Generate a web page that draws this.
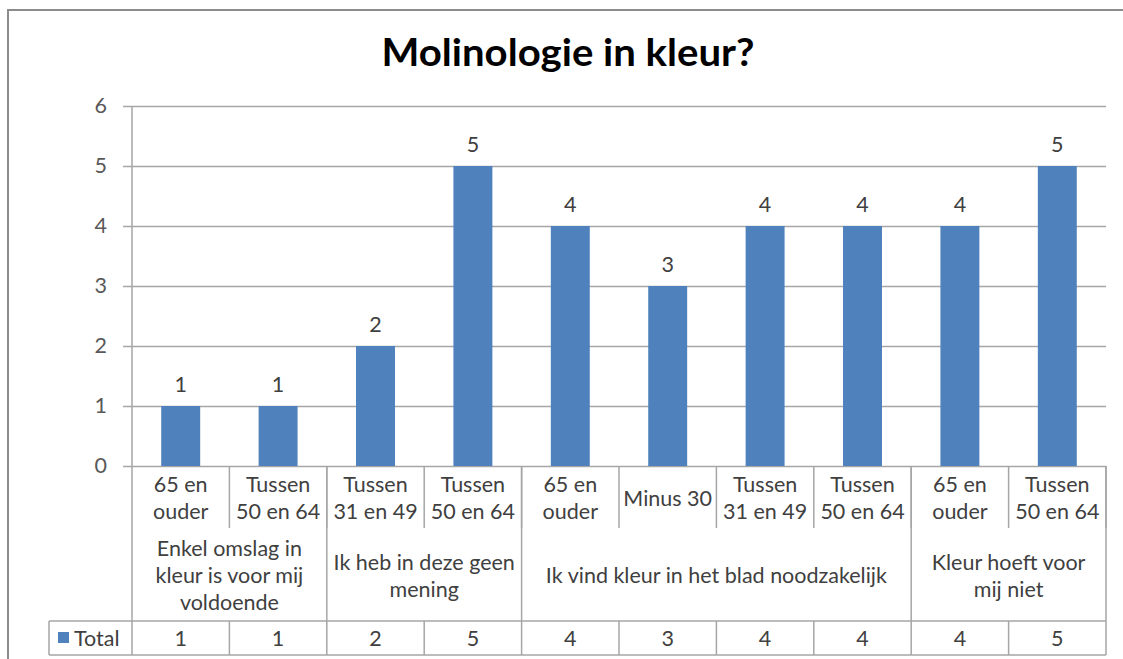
<!DOCTYPE html>
<html>
<head>
<meta charset="utf-8">
<script src="https://cdn.jsdelivr.net/npm/d3@7"></script>
<style>
  body { margin: 0; background: #fff; }
  svg { display: block; font-family: Lato, 'Open Sans', sans-serif; }
</style>
</head>
<body>
<div id="wrapper"></div>
<script>
// data
const groups = [
  { label: ['Enkel omslag in', 'kleur is voor mij', 'voldoende'], span: 2 },
  { label: ['Ik heb in deze geen', 'mening'], span: 2 },
  { label: ['Ik vind kleur in het blad noodzakelijk'], span: 4 },
  { label: ['Kleur hoeft voor', 'mij niet'], span: 2 },
]
const categories = [
  ['65 en', 'ouder'],
  ['Tussen', '50 en 64'],
  ['Tussen', '31 en 49'],
  ['Tussen', '50 en 64'],
  ['65 en', 'ouder'],
  ['Minus 30'],
  ['Tussen', '31 en 49'],
  ['Tussen', '50 en 64'],
  ['65 en', 'ouder'],
  ['Tussen', '50 en 64'],
]
const values = [1, 1, 2, 5, 4, 3, 4, 4, 4, 5]
const yTicks = [0, 1, 2, 3, 4, 5, 6]
const seriesName = 'Total'

function drawChart() {
  const dimensions = {
    width: 1123,
    height: 659,
    plotLeft: 132,
    plotRight: 1106,
    plotTop: 106,
    plotBottom: 466,
    row1Bottom: 528,
    totalTop: 621,
    totalBottom: 655,
    tableLeft: 49,
  }
  const barColor = '#4f81bd'
  const lineColor = '#a6a6a6'
  const textColor = '#404040'
  const fontSize = 21.5

  const svg = d3
    .select('#wrapper')
    .append('svg')
    .attr('width', dimensions.width)
    .attr('height', dimensions.height)

  // outer chart border
  svg
    .append('rect')
    .attr('x', 8)
    .attr('y', 10)
    .attr('width', 1130)
    .attr('height', 670)
    .attr('fill', 'none')
    .attr('stroke', '#8c8c8c')
    .attr('stroke-width', 2)

  // title
  svg
    .append('text')
    .attr('x', 568)
    .attr('y', 66)
    .attr('text-anchor', 'middle')
    .attr('font-size', 38)
    .attr('font-weight', 700)
    .attr('textLength', 373)
    .attr('lengthAdjust', 'spacingAndGlyphs')
    .attr('fill', '#000')
    .text('Molinologie in kleur?')

  // scales
  const xScale = d3
    .scaleBand()
    .domain(d3.range(values.length))
    .range([dimensions.plotLeft, dimensions.plotRight])
    .paddingInner(0.6)
    .paddingOuter(0.3)
  const step = xScale.step()
  const cellLeft = (i) => dimensions.plotLeft + i * step

  const yScale = d3
    .scaleLinear()
    .domain([0, 6])
    .range([dimensions.plotBottom, dimensions.plotTop])

  // gridlines + y axis
  const yAxisGenerator = d3
    .axisLeft(yScale)
    .tickValues(yTicks)
    .tickFormat(d3.format('d'))
    .tickSize(dimensions.plotRight - dimensions.plotLeft + 9)
    .tickPadding(16)
  const yAxis = svg
    .append('g')
    .attr('transform', `translate(${dimensions.plotRight},0)`)
    .call(yAxisGenerator)
  yAxis.select('.domain').remove()
  yAxis.selectAll('line').attr('stroke', lineColor).attr('stroke-width', 1.5)
  yAxis
    .selectAll('text')
    .attr('fill', '#595959')
    .attr('font-size', fontSize)
    .attr('font-family', 'Lato, sans-serif')

  // bars
  svg
    .append('g')
    .selectAll('rect')
    .data(values)
    .join('rect')
    .attr('x', (d, i) => xScale(i))
    .attr('y', (d) => yScale(d))
    .attr('width', xScale.bandwidth())
    .attr('height', (d) => yScale(0) - yScale(d))
    .attr('fill', barColor)

  // value labels
  svg
    .append('g')
    .selectAll('text')
    .data(values)
    .join('text')
    .attr('x', (d, i) => xScale(i) + xScale.bandwidth() / 2)
    .attr('y', (d) => yScale(d) - 14)
    .attr('text-anchor', 'middle')
    .attr('font-size', fontSize)
    .attr('fill', textColor)
    .text((d) => d)

  // table lines
  const table = svg
    .append('g')
    .attr('stroke', lineColor)
    .attr('stroke-width', 1.5)
  // vertical axis line down through table
  table
    .append('line')
    .attr('x1', dimensions.plotLeft)
    .attr('x2', dimensions.plotLeft)
    .attr('y1', dimensions.plotTop)
    .attr('y2', dimensions.totalBottom)
  // row 1 separators between categories
  table
    .selectAll('.cat-sep')
    .data(d3.range(1, values.length + 1))
    .join('line')
    .attr('x1', (i) => cellLeft(i))
    .attr('x2', (i) => cellLeft(i))
    .attr('y1', dimensions.plotBottom)
    .attr('y2', dimensions.row1Bottom)
  // group separators
  let start = 0
  const groupBounds = groups.map((g) => {
    const b = { ...g, start }
    start += g.span
    return b
  })
  table
    .selectAll('.grp-sep')
    .data(groupBounds)
    .join('line')
    .attr('x1', (g) => cellLeft(g.start + g.span))
    .attr('x2', (g) => cellLeft(g.start + g.span))
    .attr('y1', dimensions.plotBottom)
    .attr('y2', dimensions.totalTop)
  // total row
  ;[dimensions.totalTop, dimensions.totalBottom].forEach((y) => {
    table
      .append('line')
      .attr('x1', dimensions.tableLeft)
      .attr('x2', dimensions.plotRight)
      .attr('y1', y)
      .attr('y2', y)
  })
  table
    .selectAll('.tot-sep')
    .data([dimensions.tableLeft].concat(d3.range(1, values.length + 1).map(cellLeft)))
    .join('line')
    .attr('x1', (x) => x)
    .attr('x2', (x) => x)
    .attr('y1', dimensions.totalTop)
    .attr('y2', dimensions.totalBottom)

  const lineH = 27
  const addLines = (sel, lines, cx, cy) => {
    const n = lines.length
    lines.forEach((t, k) => {
      sel
        .append('text')
        .attr('x', cx)
        .attr('y', cy + (k - (n - 1) / 2) * lineH)
        .attr('dy', '0.35em')
        .attr('text-anchor', 'middle')
        .attr('font-size', fontSize)
        .attr('fill', textColor)
        .text(t)
    })
  }

  // category labels
  const labels = svg.append('g')
  categories.forEach((c, i) => {
    addLines(labels, c, cellLeft(i) + step / 2, (dimensions.plotBottom + dimensions.row1Bottom) / 2 + 1)
  })
  // group labels
  groupBounds.forEach((g) => {
    addLines(
      labels,
      g.label,
      cellLeft(g.start) + (g.span * step) / 2,
      (dimensions.row1Bottom + dimensions.totalTop) / 2 + 1
    )
  })
  // total row values
  values.forEach((v, i) => {
    addLines(labels, [String(v)], cellLeft(i) + step / 2, (dimensions.totalTop + dimensions.totalBottom) / 2)
  })

  // legend key
  svg
    .append('rect')
    .attr('x', 58)
    .attr('y', 632)
    .attr('width', 11)
    .attr('height', 11)
    .attr('fill', barColor)
  svg
    .append('text')
    .attr('x', 74)
    .attr('y', 638)
    .attr('dy', '0.35em')
    .attr('font-size', fontSize)
    .attr('fill', textColor)
    .text(seriesName)
}

drawChart()
</script>
</body>
</html>
